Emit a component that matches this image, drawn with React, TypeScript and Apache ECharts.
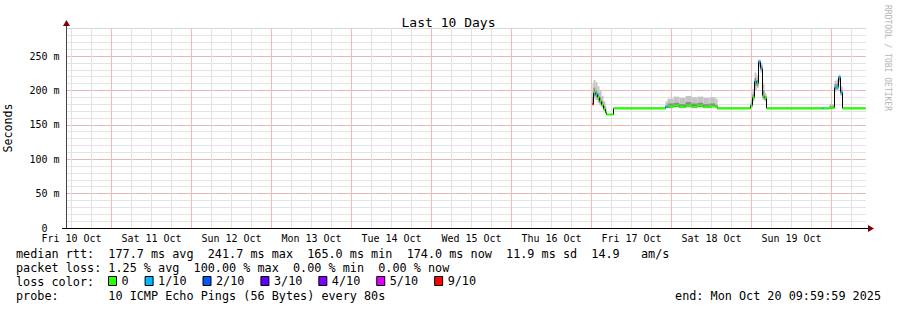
import React, { useEffect, useRef } from "react";
import * as echarts from "echarts";

// ---- axis / labels ----
const X_MIN = 10.5; // hours since Fri 10 Oct 00:00
const X_MAX = 250.5;
const dayLabels = [
  "Fri 10 Oct", "Sat 11 Oct", "Sun 12 Oct", "Mon 13 Oct", "Tue 14 Oct",
  "Wed 15 Oct", "Thu 16 Oct", "Fri 17 Oct", "Sat 18 Oct", "Sun 19 Oct",
];
const Y_MAX = 290.7;

// ---- data (hours since Fri 10 Oct 00:00, ms) ----
const times = [
  168.3, 168.6, 169.2, 169.8, 170.4, 171.0, 171.6, 172.2, 172.5, 174.6,
  190.2, 190.8, 192.6, 194.4, 196.2, 198.0, 199.8, 201.6, 203.4, 205.2,
  205.8, 215.7, 216.3, 216.9, 217.5, 218.1, 218.7, 219.3, 219.9, 220.5,
  237.3, 237.6, 239.4, 240.9, 241.5, 242.1, 242.7, 243.3,
];
const endTime = 250.2;
const median = [
  180, 197, 194, 190, 184, 179, 173, 168, 165, 174,
  176, 177, 178, 176, 178, 177, 178, 176, 177, 176,
  174, 178, 190, 213, 210, 241.7, 232, 192, 189, 174,
  174, 174, 175, 204, 205, 219, 197, 174,
];
const loss = [
  9, 0, 1, 0, 0, 0, 0, 0, 0, 0,
  1, 0, 0, 0, 0, 0, 0, 0, 0, 0,
  0, 0, 0, 1, 0, 1, 1, 0, 0, 0,
  1, 0, 0, 1, 1, 1, 1, 0,
];
const smokeLo = [
  178, 188, 186, 182, 178, 175, 170, 166, 165, 174,
  174, 174, 175, 174, 175, 174, 175, 174, 175, 174,
  174, 175, 184, 200, 203, 234, 226, 186, 184, 174,
  174, 174, 174, 198, 200, 212, 192, 174,
];
const smokeInLo = [
  179, 192, 190, 186, 181, 177, 171, 167, 165, 174,
  175, 175, 176, 175, 176, 175, 176, 175, 176, 175,
  174, 176, 187, 207, 206, 238, 229, 189, 186, 174,
  174, 174, 174, 201, 202, 215, 194, 174,
];
const smokeInHi = [
  190, 204, 200, 196, 190, 184, 177, 170, 165, 174,
  178, 181, 182, 180, 183, 181, 182, 180, 181, 179,
  174, 181, 195, 218, 215, 243, 236, 200, 192, 174,
  174, 174, 177, 209, 210, 221, 201, 174,
];
const smokeHi = [
  210, 215, 212, 206, 200, 192, 184, 175, 165, 174,
  184, 188, 191, 189, 192, 190, 191, 189, 190, 188,
  174, 186, 202, 226, 222, 245, 240, 210, 196, 174,
  174, 174, 180, 214, 216, 223, 206, 174,
];

// ---- legend ----
const lossLevels = [0, 1, 2, 3, 4, 5, 9];
const lossNames = ["0", "1/10", "2/10", "3/10", "4/10", "5/10", "9/10"];
const lossColors = ["#26ff00", "#00b8ff", "#0059ff", "#5e00ff", "#7e00ff", "#dd00ff", "#ff0000"];
const statLines = [
  "median rtt:  177.7 ms avg  241.7 ms max  165.0 ms min  174.0 ms now  11.9 ms sd  14.9   am/s",
  "packet loss: 1.25 % avg  100.00 % max  0.00 % min  0.00 % now",
  "loss color:",
  "probe:       10 ICMP Echo Pings (56 Bytes) every 80s",
];
const endText = "end: Mon Oct 20 09:59:59 2025";

const FONT = '"DejaVu Sans Mono", monospace';
const GRAY = "#c8c8c8";
const RED = "#f08a8a";
const VGRAY = "#e2e2e2";
const VRED = "#f6b8b8";

export default function App() {
  const ref = useRef<HTMLDivElement>(null);
  useEffect(() => {
    if (!ref.current) return;
    const chart = echarts.init(ref.current, null, { renderer: "svg" });

    const tAll = [...times, endTime];
    const pick = (arr: number[]) => tAll.map((t, i) => [t, arr[Math.min(i, arr.length - 1)]]);

    const smokeData = times.map((t, i) => [t, tAll[i + 1], smokeLo[i], smokeInLo[i], smokeInHi[i], smokeHi[i]]);

    const lossSeries = lossLevels.map((lv, k) => {
      const d: any[] = [];
      for (let i = 0; i < times.length; i++) {
        if (loss[i] === lv) {
          const tn = tAll[i + 1];
          d.push([times[i], median[i]], [tn, median[i]], [tn, null]);
        }
      }
      return {
        name: lossNames[k],
        type: "line",
        data: d,
        symbol: "none",
        color: lossColors[k],
        itemStyle: { color: lossColors[k] },
        lineStyle: { width: 2.2, color: lossColors[k] },
        connectNulls: false,
        silent: true,
        z: 5,
      };
    });

    // vertical grid (every 6 h, major at midnight) as broken line series
    const minorV: any[] = [];
    const majorV: any[] = [];
    for (let h = 12; h <= 246; h += 6) {
      const target = h % 24 === 0 ? majorV : minorV;
      target.push([h, 0], [h, Y_MAX], [h, null]);
    }
    const vGridSeries = (data: any[], color: string, z: number) => ({
      type: "line",
      data,
      symbol: "none",
      silent: true,
      connectNulls: false,
      clip: false,
      lineStyle: { color, width: 1, type: "solid" },
      z,
    });

    const yLabelFmt = (v: number) => {
      const r = Math.round(v);
      if (Math.abs(v - r) > 1e-6) return "";
      if (r === 0) return "{z|0}";
      return r % 50 === 0 ? `${r} m` : "";
    };

    const option: any = {
      animation: false,
      backgroundColor: "#ffffff",
      title: {
        text: "Last 10 Days",
        left: "center",
        top: 11,
        textStyle: { fontFamily: FONT, fontSize: 13, fontWeight: "normal", color: "#000" },
      },
      legend: {
        left: 108,
        top: 275,
        padding: 0,
        icon: "rect",
        itemWidth: 8,
        itemHeight: 9,
        itemGap: 16,
        data: lossNames,
        selectedMode: false,
        textStyle: { fontFamily: FONT, fontSize: 11.8, color: "#000" },
        itemStyle: { borderColor: "#000", borderWidth: 1 },
      },
      grid: { left: 66.5, top: 28, width: 800, height: 200, containLabel: false, outerBoundsMode: "none" },
      xAxis: {
        type: "value",
        min: X_MIN,
        max: X_MAX,
        axisLine: { show: true, lineStyle: { color: "#000", width: 1 } },
        axisTick: { show: false },
        splitLine: { show: false },
        axisLabel: {
          customValues: dayLabels.map((_, i) => 12 + 24 * i),
          formatter: (v: number) => dayLabels[Math.round((v - 12) / 24)] ?? "",
          fontFamily: FONT,
          fontSize: 10,
          color: "#000",
          margin: 5,
        },
      },
      yAxis: [
        {
          type: "value",
          min: 0,
          max: Y_MAX,
          interval: 10,
          axisLine: { show: true, lineStyle: { color: "#444", width: 1 } },
          axisTick: { show: false },
          axisLabel: { show: false },
          splitLine: { show: true, lineStyle: { color: GRAY, type: [1, 1], width: 1 } },
        },
        {
          type: "value",
          position: "left",
          min: 0,
          max: Y_MAX,
          interval: 50,
          name: "Seconds",
          nameLocation: "middle",
          nameGap: 53,
          nameTextStyle: { fontFamily: FONT, fontSize: 11.6, color: "#000" },
          axisLine: { show: false },
          axisTick: { show: false },
          splitLine: { show: true, showMinLine: false, showMaxLine: false, lineStyle: { color: RED, type: [1, 1], width: 1 } },
          axisLabel: {
            fontFamily: FONT,
            fontSize: 10,
            color: "#000",
            margin: 7,
            showMaxLabel: false,
            formatter: yLabelFmt,
            rich: { z: { fontFamily: FONT, fontSize: 10, color: "#000", padding: [0, 12, 0, 0] } },
          },
        },
      ],
      graphic: [
        { type: "line", shape: { x1: 66.5, y1: 28, x2: 66.5, y2: 23 }, style: { stroke: "#444", lineWidth: 1 }, silent: true },
        { type: "polygon", shape: { points: [[63, 26], [70, 26], [66.5, 20]] }, style: { fill: "#7f0000" }, silent: true },
        { type: "line", shape: { x1: 62, y1: 228.5, x2: 869, y2: 228.5 }, style: { stroke: "#000", lineWidth: 1 }, silent: true },
        { type: "polygon", shape: { points: [[868, 225], [868, 232], [874, 228.5]] }, style: { fill: "#7f0000" }, silent: true },
        {
          type: "text",
          x: 887,
          y: 5,
          rotation: -Math.PI / 2,
          style: { text: "RRDTOOL / TOBI OETIKER", fontFamily: FONT, fontSize: 8, fill: "#b4b4b4", textAlign: "left", textVerticalAlign: "middle" },
          silent: true,
        },
        ...statLines.map((s, i) => ({
          type: "text",
          x: 16,
          y: 254 + 14 * i,
          style: { text: s, fontFamily: FONT, fontSize: 11.8, fill: "#000", textAlign: "left", textVerticalAlign: "middle" },
          silent: true,
        })),
        {
          type: "text",
          x: 881,
          y: 296,
          style: { text: endText, fontFamily: FONT, fontSize: 11.8, fill: "#000", textAlign: "right", textVerticalAlign: "middle" },
          silent: true,
        },
      ],
      series: [
        vGridSeries(minorV, VGRAY, 1),
        vGridSeries(majorV, VRED, 1),
        {
          name: "smoke",
          type: "custom",
          silent: true,
          z: 2,
          data: smokeData,
          encode: { x: [0, 1], y: [2, 5] },
          renderItem: (params: any, api: any) => {
            const t0 = api.value(0), t1 = api.value(1);
            const lo = api.value(2), ilo = api.value(3), ihi = api.value(4), hi = api.value(5);
            const a = api.coord([t0, hi]);
            const b = api.coord([t1, lo]);
            const c = api.coord([t0, ihi]);
            const d = api.coord([t1, ilo]);
            return {
              type: "group",
              children: [
                { type: "rect", shape: { x: a[0], y: a[1], width: b[0] - a[0], height: b[1] - a[1] }, style: { fill: "#c4c4c4" } },
                { type: "rect", shape: { x: c[0], y: c[1], width: d[0] - c[0], height: d[1] - c[1] }, style: { fill: "#8c8c8c" } },
              ],
            };
          },
        },
        {
          name: "median",
          type: "line",
          step: "end",
          data: pick(median),
          symbol: "none",
          silent: true,
          lineStyle: { color: "#000", width: 1 },
          z: 4,
        },
        ...lossSeries,
      ],
    };
    chart.setOption(option);
    return () => chart.dispose();
  }, []);
  return <div ref={ref} style={{ width: 897, height: 310, position: "absolute", left: 0, top: 0 }} />;
}
